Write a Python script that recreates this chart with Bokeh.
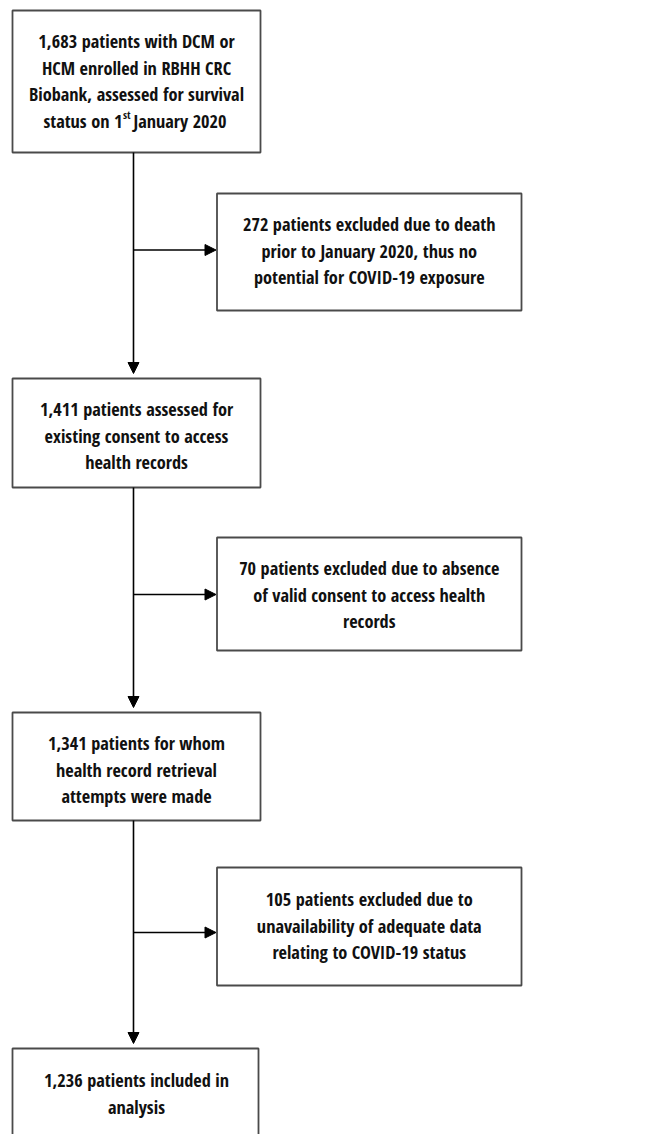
from bokeh.plotting import figure
from bokeh.models import Range1d, Arrow, NormalHead
from bokeh.core.properties import value
from bokeh.embed import file_html
from bokeh.resources import INLINE

# ---------------- data ----------------
stage_counts = [1683, 1411, 1341, 1236]
excluded_counts = [272, 70, 105]

stage_lines = [
    [f"{stage_counts[0]:,} patients with DCM or",
     "HCM enrolled in RBHH CRC",
     "Biobank, assessed for survival"],
    [f"{stage_counts[1]:,} patients assessed for",
     "existing consent to access",
     "health records"],
    [f"{stage_counts[2]:,} patients for whom",
     "health record retrieval",
     "attempts were made"],
    [f"{stage_counts[3]:,} patients included in",
     "analysis"],
]
# last line of first box, with superscript ordinal
first_box_tail = ["status on 1", "st", "January 2020"]

excluded_lines = [
    [f"{excluded_counts[0]} patients excluded due to death",
     "prior to January 2020, thus no",
     "potential for COVID-19 exposure"],
    [f"{excluded_counts[1]} patients excluded due to absence",
     "of valid consent to access health",
     "records"],
    [f"{excluded_counts[2]} patients excluded due to",
     "unavailability of adequate data",
     "relating to COVID-19 status"],
]

# ---------------- layout (page pixels) ----------------
W, H = 667, 1134
FONT = "Open Sans Condensed"
FS = "18.3px"
TXT = "#111111"
BORDER = "#4a4a4a"
LINE_H = 26.7

left_x = (12, 260)
right_x = (216.5, 521)
stage_y = [(10, 152), (378, 487), (712, 820), (1048, 1150)]
stage_text_top = [40, 408, 742, 1079]
excl_y = [(193, 310), (537, 650), (867, 985)]
excl_text_top = [223, 567, 898]
trunk_x = 133
branch_y = [249.5, 594, 932]

p = figure(width=W, height=H, output_backend="svg", toolbar_location=None,
           x_range=Range1d(0, W), y_range=Range1d(H, 0),
           x_axis_type=None, y_axis_type=None, min_border=0)
p.grid.visible = False
p.outline_line_color = None
p.background_fill_color = "white"

# boxes
bl, br, bt, bb = [], [], [], []
for (t, b) in stage_y:
    bl.append(left_x[0]); br.append(left_x[1] if b < 1000 else 258); bt.append(t); bb.append(b)
for (t, b) in excl_y:
    bl.append(right_x[0]); br.append(right_x[1]); bt.append(t); bb.append(b)
p.quad(left=bl, right=br, top=bt, bottom=bb, fill_color="white",
       line_color=BORDER, line_width=1.8)

# text
tx, ty, tt = [], [], []
for i, lines in enumerate(stage_lines):
    cx = (left_x[0] + left_x[1]) / 2
    for j, s in enumerate(lines):
        tx.append(cx); ty.append(stage_text_top[i] + j * LINE_H); tt.append(s)
for i, lines in enumerate(excluded_lines):
    cx = (right_x[0] + right_x[1]) / 2
    for j, s in enumerate(lines):
        tx.append(cx); ty.append(excl_text_top[i] + j * LINE_H); tt.append(s)
p.text(x=tx, y=ty, text=tt, text_font=value(FONT), text_font_size=FS,
       text_font_style="bold", text_align="center", text_baseline="middle",
       text_color=TXT)

# superscript line of first box
y4 = stage_text_top[0] + 3 * LINE_H
p.text(x=[122], y=[y4], text=[first_box_tail[0]], text_font=value(FONT),
       text_font_size=FS, text_font_style="bold", text_align="right",
       text_baseline="middle", text_color=TXT)
p.text(x=[122.5], y=[y4 - 6], text=[first_box_tail[1]], text_font=value(FONT),
       text_font_size="11px", text_font_style="bold", text_align="left",
       text_baseline="middle", text_color=TXT)
p.text(x=[133], y=[y4], text=[first_box_tail[2]], text_font=value(FONT),
       text_font_size=FS, text_font_style="bold", text_align="left",
       text_baseline="middle", text_color=TXT)

# arrows down the trunk
for k in range(3):
    p.add_layout(Arrow(end=NormalHead(size=11, fill_color="black", line_color="black", line_width=1),
                       x_start=trunk_x, y_start=stage_y[k][1],
                       x_end=trunk_x, y_end=stage_y[k + 1][0] - 5,
                       line_color="black", line_width=1.6))
# branch arrows
for k in range(3):
    p.add_layout(Arrow(end=NormalHead(size=11, fill_color="black", line_color="black", line_width=1),
                       x_start=trunk_x, y_start=branch_y[k],
                       x_end=right_x[0] - 1, y_end=branch_y[k],
                       line_color="black", line_width=1.6))

open("out.html", "w").write(file_html(p, INLINE))
